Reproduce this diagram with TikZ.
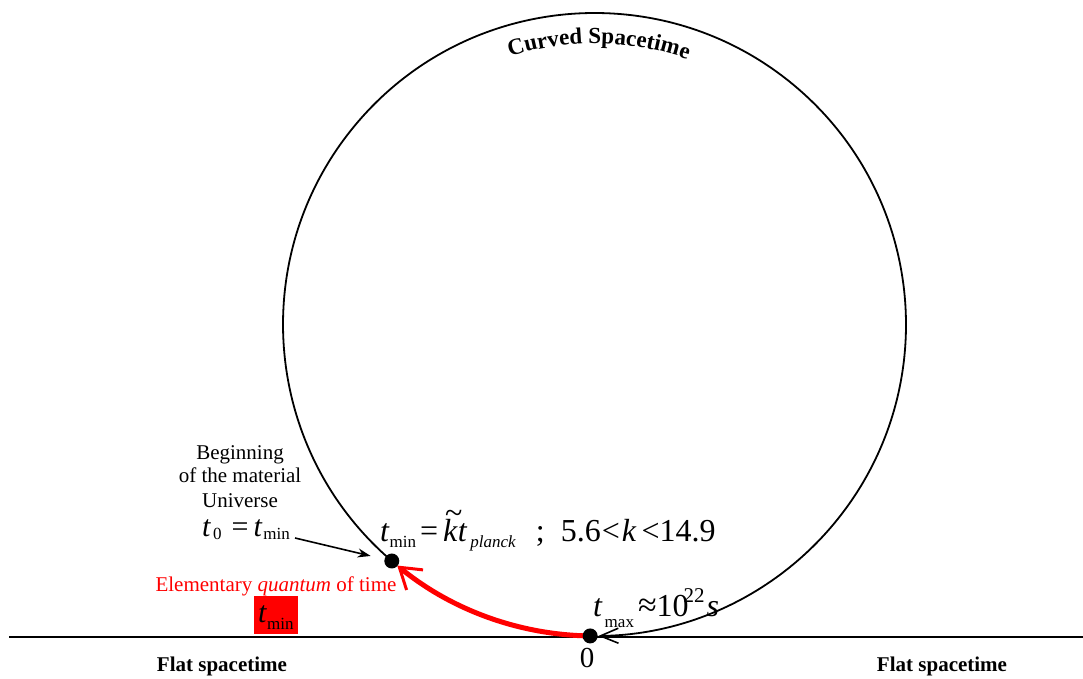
\documentclass[tikz,border=0pt]{standalone}
\usepackage{fontspec}
\setmainfont{Liberation Serif}
\usetikzlibrary{arrows.meta,decorations.text,calc}
\newcommand\fsz[1]{\fontsize{#1}{#1}\selectfont}
\newcommand\tvar{\textit{t}}
\newcommand\lsub[2]{\raisebox{-#1}{\fsz{17}#2}}
\newcommand\ktil{\makebox[0pt][l]{\kern2pt\raisebox{0.58em}{\char"7E}}\textit{k}}
\begin{document}
\begin{tikzpicture}[x=1pt,y=1pt,
  txt/.style={font=\fsz{21}, inner sep=0pt},
  eqn/.style={font=\fsz{32}, inner sep=0pt},
  dotnode/.style={circle, fill=black, inner sep=0pt, minimum size=15pt},
  circ/.style={line width=1.8pt}]
\useasboundingbox (0,0) rectangle (1083,679);
\coordinate (c) at (594.5,354.5);
\def\R{311.5}
\coordinate (pmin) at ($(c)+(229.4:\R)$);
\coordinate (pmax) at ($(c)+(-90.8:\R)$);
% ground line
\coordinate (gl) at (9,42);
\coordinate (gr) at (1083,42);
\draw[line width=1.8pt] (gl) -- (gr);
% circle (black arc with arrow)
\draw[circ, -{Straight Barb[length=18pt,width=15pt,line width=1.6pt]}] (pmin) arc[start angle=229.4, end angle=-89.3, radius=\R];
% red arc
\draw[red, line width=5pt, -{Straight Barb[length=20pt,width=26pt,line width=3pt]}] (pmax) arc[start angle=-90.8, end angle=-129.3, radius=\R];
% dots
\node[dotnode] (tmin) at (pmin) {};
\node[dotnode] (tmax) at (pmax) {};
% curved title
\path[decorate, decoration={text along path, text align=center, text={|\fsz{23}\bfseries|Curved Spacetime}}] ($(c)+(119.1:281)$) arc[start angle=119.1, end angle=59.1, radius=281];
% left labels
\node[txt, anchor=base] (b1) at (240,219) {Beginning};
\node[txt, anchor=base] (b2) at (240,196) {of the material};
\node[txt, anchor=base] (b3) at (240,171) {Universe};
\node[eqn, anchor=base west, font=\fsz{30}] (t0) at (202,142) {\tvar\hspace{2pt}\lsub{3pt}{0}\hspace{10pt}=\hspace{5pt}\tvar\hspace{1pt}\lsub{3pt}{min}};
\coordinate (p0) at (295,141);
\draw[line width=1.6pt, -{Stealth[length=13pt,width=9pt]}, shorten >=14pt] (p0) -- (tmin);
% main equation
\node[eqn, anchor=base west] (teq) at (380,137) {\tvar\lsub{6pt}{min}\hspace{4pt}=\hspace{5pt}\ktil\tvar\hspace{3pt}\lsub{6pt}{\textit{planck}}\hspace{20pt};\hspace{16pt}5.6\hspace{1pt}<\hspace{2pt}\textit{k}\hspace{5pt}<14.9};
% red label
\node[txt, anchor=base, text=red] (quant) at (276,87) {Elementary \textit{quantum} of time};
\node[fill=red, minimum width=44pt, minimum height=38pt, inner sep=0pt] (box) at (276,64) {};
\node[eqn, anchor=base west, font=\fsz{30}] (boxt) at (258,56) {\tvar\lsub{7pt}{min}};
% t max
\node[eqn, anchor=base west] (tmx) at (593,62) {\tvar\hspace{2pt}\lsub{11pt}{max}\hspace{4pt}{\fsz{34}≈}10\hspace{-5pt}\raisebox{14pt}{\fsz{21}22}\hspace{2pt}\textit{s}};
% zero
\node[eqn, anchor=base, font=\fsz{29}] (zero) at (587,11) {0};
% flat spacetime
\node[txt, anchor=base, font=\fsz{21}\bfseries] (fl1) at (222,7) {Flat spacetime};
\node[txt, anchor=base, font=\fsz{21}\bfseries] (fl2) at (942,7) {Flat spacetime};
\end{tikzpicture}
\end{document}
